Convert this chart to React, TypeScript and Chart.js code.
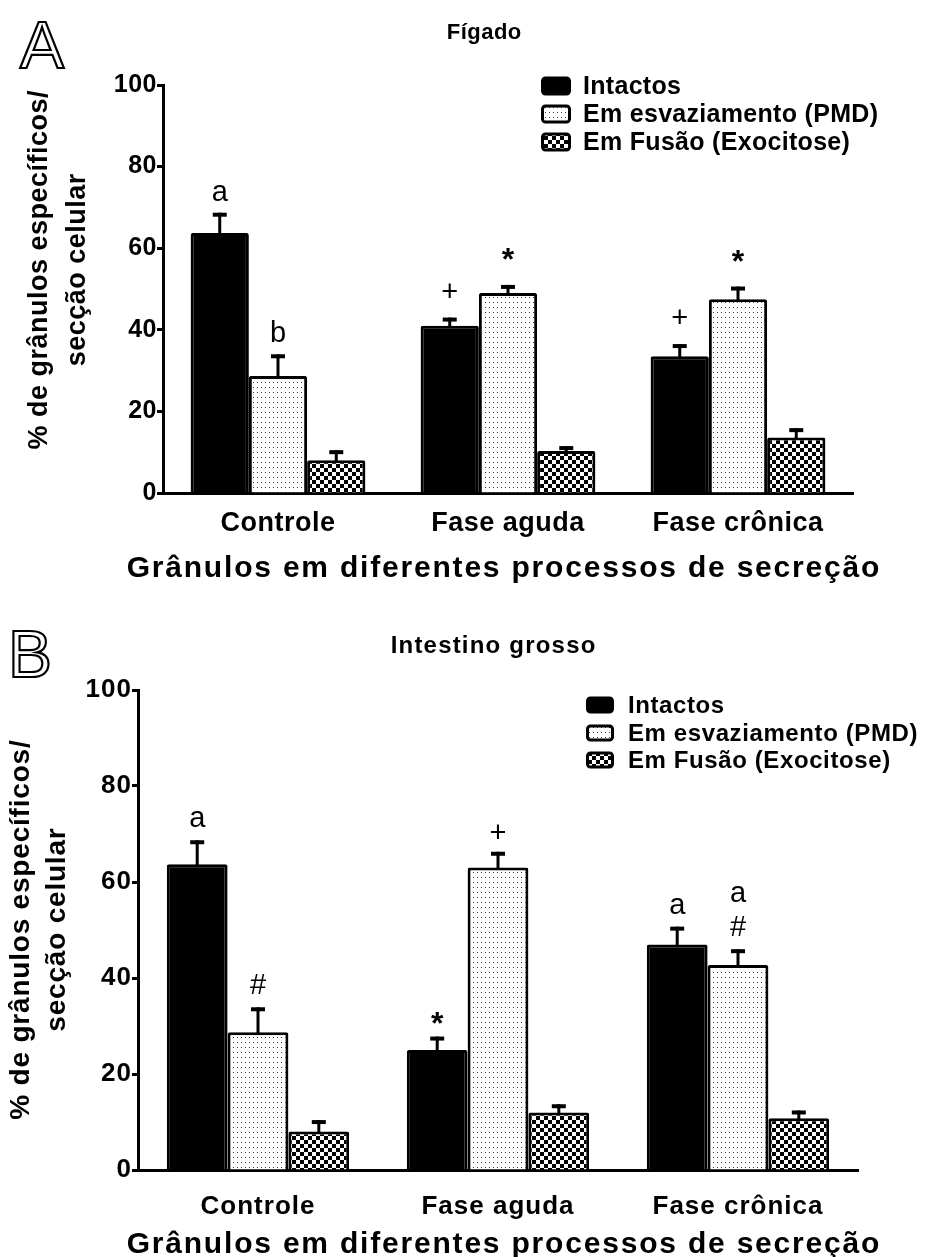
import React, { useEffect, useRef } from 'react';
import { Chart, registerables } from 'chart.js';

Chart.register(...registerables);

// ---------- data ----------
const categories = ['Controle', 'Fase aguda', 'Fase crônica'];
const seriesNames = ['Intactos', 'Em esvaziamento (PMD)', 'Em Fusão (Exocitose)'];
const yTickValues = [0, 20, 40, 60, 80, 100];
const yTitleLines = ['% de grânulos específicos/', 'secção celular'];
const xTitle = 'Grânulos em diferentes processos de secreção';

// Panel A – Fígado
const liverTitle = 'Fígado';
const liverIntactos = [63.7, 41.0, 33.5];
const liverIntactosSem = [5.0, 2.0, 3.0];
const liverPmd = [28.7, 49.0, 47.5];
const liverPmdSem = [5.3, 2.0, 3.1];
const liverFusao = [8.0, 10.3, 13.6];
const liverFusaoSem = [2.5, 1.2, 2.3];
const liverMarksIntactos = ['a', '+', '+'];
const liverMarksPmd = ['b', '*', '*'];
const liverMarksFusao = ['', '', ''];

// Panel B – Intestino grosso
const colonTitle = 'Intestino grosso';
const colonIntactos = [63.7, 25.0, 47.0];
const colonIntactosSem = [5.0, 2.8, 3.7];
const colonPmd = [28.7, 63.0, 42.7];
const colonPmdSem = [5.2, 3.3, 3.3];
const colonFusao = [8.0, 12.0, 10.8];
const colonFusaoSem = [2.4, 1.7, 1.6];
const colonMarksIntactos = ['a', '*', 'a'];
const colonMarksPmd = ['#', '+', 'a\n#'];
const colonMarksFusao = ['', '', ''];

const FONT = '"Liberation Sans", Arial, Helvetica, sans-serif';

type PanelCfg = {
  letter: string;
  title: string;
  values: number[][];
  sems: number[][];
  marks: string[][];
  top: number;
  height: number;
  area: { left: number; right: number; top: number; bottom: number };
  tickFont: number;
  xTickFont: number;
  spacing: number;
  xTickPad: number;
  letterPos: { x: number; y: number; size: number };
  titlePos: { x: number; y: number; size: number; sp: number };
  yTitle: { x1: number; x2: number; y: number; size: number; sp: number };
  xTitlePos: { x: number; y: number; size: number; sp: number };
  legend: { bx: number; bw: number; bh: number; rows: number[]; tx: number; size: number; sp: number };
  markGap: (m: string) => number;
};

const panelA: PanelCfg = {
  letter: 'A',
  title: liverTitle,
  values: [liverIntactos, liverPmd, liverFusao],
  sems: [liverIntactosSem, liverPmdSem, liverFusaoSem],
  marks: [liverMarksIntactos, liverMarksPmd, liverMarksFusao],
  top: 0,
  height: 620,
  area: { left: 163, right: 853, top: 85, bottom: 493 },
  tickFont: 25,
  xTickFont: 27,
  spacing: 0.5,
  xTickPad: 14,
  letterPos: { x: 20, y: 68, size: 66 },
  titlePos: { x: 484, y: 39, size: 22, sp: 0.5 },
  yTitle: { x1: 40, x2: 78, y: 270, size: 27, sp: 0.5 },
  xTitlePos: { x: 503, y: 577, size: 30, sp: 1.8 },
  legend: { bx: 541, bw: 30, bh: 19, rows: [86, 114, 142], tx: 583, size: 25, sp: 0.3 },
  markGap: (m) => (m === '+' ? 20 : m === '*' ? 25 : 12),
};

const panelB: PanelCfg = {
  letter: 'B',
  title: colonTitle,
  values: [colonIntactos, colonPmd, colonFusao],
  sems: [colonIntactosSem, colonPmdSem, colonFusaoSem],
  marks: [colonMarksIntactos, colonMarksPmd, colonMarksFusao],
  top: 620,
  height: 637,
  area: { left: 138, right: 858, top: 70, bottom: 550 },
  tickFont: 26,
  xTickFont: 26,
  spacing: 1,
  xTickPad: 21,
  letterPos: { x: 8, y: 57, size: 66 },
  titlePos: { x: 493, y: 33, size: 24, sp: 1.2 },
  yTitle: { x1: 21, x2: 57, y: 310, size: 28, sp: 0.8 },
  xTitlePos: { x: 503, y: 633, size: 30, sp: 1.8 },
  legend: { bx: 586, bw: 28, bh: 17, rows: [85, 113, 140], tx: 628, size: 24, sp: 0.6 },
  markGap: () => 13,
};

function makeDotPattern(ctx: CanvasRenderingContext2D) {
  const c = document.createElement('canvas');
  c.width = 4;
  c.height = 5;
  const g = c.getContext('2d')!;
  g.fillStyle = '#ffffff';
  g.fillRect(0, 0, 4, 5);
  g.fillStyle = '#333333';
  g.fillRect(1, 2, 1, 1);
  return ctx.createPattern(c, 'repeat')!;
}

function makeCheckPattern(ctx: CanvasRenderingContext2D) {
  const c = document.createElement('canvas');
  c.width = 8;
  c.height = 8;
  const g = c.getContext('2d')!;
  g.fillStyle = '#ffffff';
  g.fillRect(0, 0, 8, 8);
  g.fillStyle = '#000000';
  g.fillRect(0, 0, 4, 4);
  g.fillRect(4, 4, 4, 4);
  return ctx.createPattern(c, 'repeat')!;
}

function drawText(
  ctx: CanvasRenderingContext2D,
  text: string,
  x: number,
  y: number,
  font: string,
  spacing: number,
  align: CanvasTextAlign = 'center',
  baseline: CanvasTextBaseline = 'alphabetic'
) {
  ctx.save();
  ctx.font = font;
  (ctx as any).letterSpacing = spacing + 'px';
  ctx.textAlign = align;
  ctx.textBaseline = baseline;
  ctx.fillStyle = '#000';
  const dx = align === 'center' ? spacing / 2 : align === 'right' ? spacing : 0;
  ctx.fillText(text, x + dx, y);
  ctx.restore();
}

function Panel({ cfg }: { cfg: PanelCfg }) {
  const ref = useRef<HTMLCanvasElement>(null);

  useEffect(() => {
    const canvas = ref.current!;
    const ctx = canvas.getContext('2d')!;
    const fills: (string | CanvasPattern)[] = ['#000000', makeDotPattern(ctx), makeCheckPattern(ctx)];
    const W = 925;

    const spacingPlugin = {
      id: 'spacing',
      beforeLayout(chart: any) {
        chart.ctx.letterSpacing = cfg.spacing + 'px';
      },
      beforeDraw(chart: any) {
        chart.ctx.letterSpacing = cfg.spacing + 'px';
      },
    };

    const overlay = {
      id: 'overlay',
      afterDatasetsDraw(chart: any) {
        const c: CanvasRenderingContext2D = chart.ctx;
        const yScale = chart.scales.y;
        c.save();
        (c as any).letterSpacing = '0px';
        cfg.values.forEach((vals, di) => {
          const meta = chart.getDatasetMeta(di);
          vals.forEach((v, i) => {
            const el = meta.data[i];
            const x = el.x;
            const yTop = yScale.getPixelForValue(v + cfg.sems[di][i]);
            const yBar = el.y;
            c.fillStyle = '#000';
            c.fillRect(x - 1.5, yTop, 3, yBar - yTop + 1);
            c.fillRect(x - 7, yTop, 14, 4);
            const mark = cfg.marks[di][i];
            if (mark) {
              const lines = mark.split('\n');
              let bottom = yTop - cfg.markGap(lines[lines.length - 1]);
              for (let k = lines.length - 1; k >= 0; k--) {
                const t = lines[k];
                const font = t === '*' ? `bold 32px ${FONT}` : `29px ${FONT}`;
                c.font = font;
                c.textAlign = 'center';
                c.textBaseline = 'alphabetic';
                const m = c.measureText(t);
                const baseY = bottom - m.actualBoundingBoxDescent;
                c.fillText(t, x, baseY);
                const topY = baseY - m.actualBoundingBoxAscent;
                bottom = topY - 14;
              }
            }
          });
        });
        c.restore();
      },
      afterDraw(chart: any) {
        const c: CanvasRenderingContext2D = chart.ctx;
        // panel letter (outlined)
        c.save();
        (c as any).letterSpacing = '0px';
        c.font = `${cfg.letterPos.size}px ${FONT}`;
        c.textAlign = 'left';
        c.textBaseline = 'alphabetic';
        c.lineWidth = 2.2;
        c.strokeStyle = '#000';
        c.lineJoin = 'miter';
        c.strokeText(cfg.letter, cfg.letterPos.x, cfg.letterPos.y);
        c.restore();

        // title
        drawText(c, cfg.title, cfg.titlePos.x, cfg.titlePos.y, `bold ${cfg.titlePos.size}px ${FONT}`, cfg.titlePos.sp);

        // y title (rotated)
        const yt = cfg.yTitle;
        [yt.x1, yt.x2].forEach((lx, k) => {
          c.save();
          c.translate(lx, yt.y);
          c.rotate(-Math.PI / 2);
          drawText(c, yTitleLines[k], 0, 0, `bold ${yt.size}px ${FONT}`, yt.sp, 'center', 'middle');
          c.restore();
        });

        // x title
        drawText(c, xTitle, cfg.xTitlePos.x, cfg.xTitlePos.y, `bold ${cfg.xTitlePos.size}px ${FONT}`, cfg.xTitlePos.sp);

        // legend
        const lg = cfg.legend;
        seriesNames.forEach((name, i) => {
          const cy = lg.rows[i];
          c.save();
          c.beginPath();
          (c as any).roundRect(lg.bx + 1.5, cy - lg.bh / 2 + 1.5, lg.bw - 3, lg.bh - 3, 3);
          c.fillStyle = fills[i] as any;
          c.fill();
          c.lineWidth = 3;
          c.strokeStyle = '#000';
          c.stroke();
          c.restore();
          drawText(c, name, lg.tx, cy + 1, `bold ${lg.size}px ${FONT}`, lg.sp, 'left', 'middle');
        });
      },
    };

    const chart = new Chart(canvas, {
      type: 'bar',
      data: {
        labels: categories,
        datasets: cfg.values.map((vals, i) => ({
          label: seriesNames[i],
          data: vals,
          backgroundColor: fills[i] as any,
          borderColor: '#000',
          borderWidth: 3,
          borderRadius: 2,
          categoryPercentage: 0.76,
          barPercentage: 1,
        })),
      },
      options: {
        responsive: false,
        maintainAspectRatio: false,
        animation: false,
        events: [],
        devicePixelRatio: 1,
        layout: {
          padding: {
            left: cfg.area.left - 60,
            right: W - cfg.area.right,
            top: cfg.area.top,
            bottom: cfg.height - cfg.area.bottom - 60,
          },
        },
        plugins: {
          legend: { display: false },
          tooltip: { enabled: false },
          title: { display: false },
        },
        scales: {
          x: {
            z: 1,
            grid: { display: false, drawTicks: false },
            border: { display: true, color: '#000', width: 3 },
            ticks: {
              color: '#000',
              font: { family: FONT, size: cfg.xTickFont, weight: 'bold' },
              padding: cfg.xTickPad,
              maxRotation: 0,
              autoSkip: false,
            },
            afterFit: (s: any) => {
              s.height = 60;
            },
          },
          y: {
            min: 0,
            max: 100,
            afterBuildTicks: (s: any) => {
              s.ticks = yTickValues.map((v) => ({ value: v }));
            },
            ticks: {
              color: '#000',
              font: { family: FONT, size: cfg.tickFont, weight: 'bold' },
              padding: 0,
            },
            grid: {
              drawOnChartArea: false,
              drawTicks: true,
              tickLength: 6,
              tickWidth: 3,
              tickColor: '#000',
            },
            border: { display: true, color: '#000', width: 3 },
            afterFit: (s: any) => {
              s.width = 60;
            },
          },
        },
      } as any,
      plugins: [spacingPlugin, overlay],
    });
    return () => chart.destroy();
  }, [cfg]);

  return (
    <canvas
      ref={ref}
      width={925}
      height={cfg.height}
      style={{ position: 'absolute', left: 0, top: cfg.top, width: 925, height: cfg.height, display: 'block' }}
    />
  );
}

export default function App() {
  return (
    <div style={{ position: 'absolute', left: 0, top: 0, width: 925, height: 1257, background: '#fff' }}>
      <Panel cfg={panelA} />
      <Panel cfg={panelB} />
    </div>
  );
}
